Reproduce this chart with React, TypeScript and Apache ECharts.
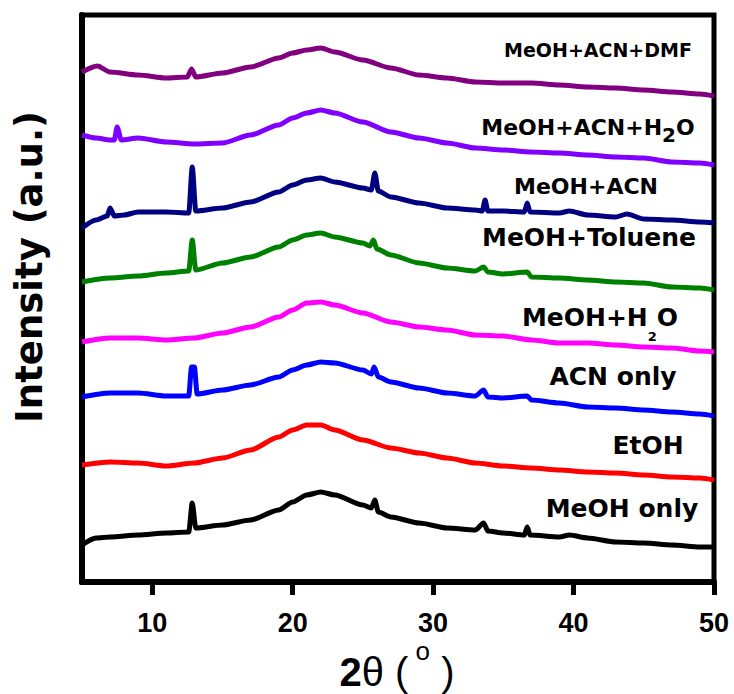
import React, { useEffect, useRef } from "react";
import * as echarts from "echarts";

// 2θ tick values
const xTicks = [10, 20, 30, 40, 50];

const sampleNames = [
  "MeOH+ACN+DMF",
  "MeOH+ACN+H2O",
  "MeOH+ACN",
  "MeOH+Toluene",
  "MeOH+H2O",
  "ACN only",
  "EtOH",
  "MeOH only",
];

const sampleColors = ["#800080", "#7F00FF", "#000080", "#008000", "#FF00FF", "#0000FF", "#FF0000", "#000000"];

// [2θ, intensity (a.u., stacked with offsets)]
const dmfData = [[5,510],[6.1,516],[7,510],[9,507],[11,504],[12.5,505],[12.8,513],[13.1,505],[15,509],[17,515],[19,524],[20,529],[21,532],[22,534],[23,530],[25,522],[27,514],[29,507],[31,504],[33,500],[35,499],[37,499],[39,497],[41,495],[43,494],[45,492],[47,490],[49,488],[50,486]];
const acnH2oData = [[5,447],[6,444],[7,442],[7.3,442],[7.5,455],[7.8,442],[9,444],[11,440],[13,438],[15,439],[17,447],[19,457],[20,464],[21,469],[22,472],[23,469],[25,460],[27,450],[29,444],[31,439],[33,434],[35,432],[37,430],[39,429],[41,427],[43,425],[45,424],[47,420],[49,419],[50,417]];
const acnData = [[5,354],[6,362],[6.8,366],[7,374],[7.3,366],[8,367],[9,370],[11,370],[12.6,369],[12.85,415],[13.1,371],[15,374],[17,380],[19,390],[20,397],[21,402],[22,404],[23,400],[25,394],[25.6,392],[25.85,409],[26.1,391],[27,385],[29,379],[31,374],[33,372],[33.5,371],[33.7,382],[33.9,371],[35,371],[36.5,370],[36.7,379],[36.9,370],[39,369],[39.7,371],[41,367],[43,365],[43.8,368],[45,363],[47,362],[49,360],[50,359]];
const tolueneData = [[5,300],[7,304],[9,306],[11,309],[12.6,311],[12.85,342],[13.1,312],[15,319],[17,325],[19,335],[20,342],[21,347],[22,349],[23,345],[25,339],[25.5,336],[25.75,342],[26,333],[27,327],[29,319],[31,314],[33,311],[33.6,315],[33.9,310],[35,308],[36.7,310],[37,305],[39,304],[41,302],[43,300],[45,299],[47,295],[49,294],[50,292]];
const h2oData = [[5,240],[7,244],[9,244],[11,242],[13,244],[15,249],[17,255],[19,265],[20,272],[21,279],[22,280],[23,277],[25,269],[27,260],[29,255],[31,252],[33,247],[35,246],[37,242],[39,239],[41,239],[43,237],[45,235],[47,234],[49,231],[50,230]];
const acnOnlyData = [[5,185],[7,189],[9,189],[11,186],[12.6,186],[12.8,215],[13.0,215],[13.2,188],[15,192],[17,197],[19,205],[20,212],[21,217],[22,220],[23,219],[25,212],[25.6,208],[25.8,215],[26.1,205],[27,200],[29,194],[31,189],[33,186],[33.6,192],[33.9,185],[35,184],[36.7,186],[37,182],[39,179],[41,175],[43,174],[45,172],[47,170],[49,168],[50,166]];
const etohData = [[5,117],[7,120],[9,119],[11,116],[13,119],[15,124],[17,132],[19,145],[20,152],[21,157],[22,157],[23,152],[25,142],[27,134],[29,129],[31,124],[33,119],[35,116],[37,114],[39,112],[41,110],[43,109],[45,107],[47,105],[49,104],[50,102]];
const meohOnlyData = [[5,37],[6,44],[7,45],[9,47],[11,49],[12.6,50],[12.85,79],[13.1,54],[15,57],[17,62],[19,72],[20,80],[21,87],[22,90],[23,87],[25,77],[25.6,74],[25.85,82],[26.1,70],[27,65],[29,59],[31,54],[33,52],[33.6,59],[33.9,51],[35,49],[36.5,47],[36.7,55],[36.9,47],[39,45],[39.7,47],[41,44],[43,40],[45,39],[47,37],[49,35],[50,35]];

const seriesData = [dmfData, acnH2oData, acnData, tolueneData, h2oData, acnOnlyData, etohData, meohOnlyData];

const LABEL_FONT = "DejaVu Sans";
const TICK_FONT = "Liberation Sans";

function richFor(fs: number, subFs: number, subPad: number) {
  return {
    m: { fontFamily: LABEL_FONT, fontWeight: "bold", fontSize: fs, lineHeight: fs, verticalAlign: "top", color: "#000" },
    s: { fontFamily: LABEL_FONT, fontWeight: "bold", fontSize: subFs, lineHeight: subFs, verticalAlign: "top", padding: [subPad, 0, 0, 0], color: "#000" },
  };
}

function labelText(name: string) {
  if (name.endsWith("H2O")) {
    return "{m|" + name.slice(0, -2) + "}{s|2}{m|O}";
  }
  return "{m|" + name + "}";
}

// label layout: [centerX, top, fontSize, subFontSize, subPadding]
const labelLayout: number[][] = [
  [598, 40.5, 19, 0, 0],
  [588, 116, 22, 20, 9],
  [586, 175, 22, 0, 0],
  [589, 224.5, 25, 0, 0],
  [600, 305, 25, 13, 25],
  [613, 364, 25, 0, 0],
  [648, 432.5, 25, 0, 0],
  [622, 495.5, 25, 0, 0],
];

export default function App() {
  const ref = useRef<HTMLDivElement>(null);
  useEffect(() => {
    if (!ref.current) return;
    const chart = echarts.init(ref.current, undefined, { renderer: "svg" });

    const labelGraphics = sampleNames.map((name, i) => {
      const [cx, top, fs, sfs, spad] = labelLayout[i];
      return {
        type: "text",
        x: cx,
        y: top,
        z: 100,
        style: {
          text: labelText(name),
          rich: richFor(fs, sfs || fs, spad),
          textAlign: "center",
          textVerticalAlign: "top",
          fill: "#000",
        },
      };
    });

    const option: any = {
      animation: false,
      backgroundColor: "#fff",
      grid: {
        left: 82,
        right: 20,
        top: 15,
        bottom: 112,
        show: true,
        borderColor: "#000",
        borderWidth: 5,
        backgroundColor: "transparent",
      },
      xAxis: [
        {
          type: "value",
          min: 5,
          max: 50,
          axisLine: { show: true, onZero: false, lineStyle: { color: "#000", width: 6 } },
          axisTick: { show: true, inside: false, length: 13, lineStyle: { color: "#000", width: 5 }, customValues: xTicks },
          axisLabel: {
            show: true,
            margin: 27,
            color: "#000",
            fontFamily: "Arial",
            fontWeight: 900,
            fontSize: 27,
            customValues: xTicks,
          },
          splitLine: { show: false },
        },
      ],
      yAxis: [
        {
          type: "value",
          min: 0,
          max: 567,
          axisLine: { show: true, onZero: false, lineStyle: { color: "#000", width: 6 } },
          axisTick: { show: false },
          axisLabel: { show: false },
          splitLine: { show: false },
        },
      ],
      series: seriesData.map((d, i) => ({
        name: sampleNames[i],
        type: "line",
        data: d,
        showSymbol: false,
        symbol: "none",
        smooth: 0.25,
        smoothMonotone: "x",
        lineStyle: { color: sampleColors[i], width: 5 },
        itemStyle: { color: sampleColors[i] },
        z: 2,
      })),
      graphic: [
        ...labelGraphics,
        {
          type: "text",
          x: 29,
          y: 267,
          rotation: Math.PI / 2,
          z: 100,
          style: {
            text: "Intensity (a.u.)",
            font: "bold 37px 'DejaVu Sans'",
            textAlign: "center",
            textVerticalAlign: "middle",
            fill: "#000",
          },
        },
        {
          type: "text",
          x: 397,
          y: 692,
          z: 100,
          style: {
            text: "{a|2}{b|θ (}{c| o}{d| )}",
            rich: {
              a: { fontFamily: TICK_FONT, fontWeight: "bold", fontSize: 40, lineHeight: 40, verticalAlign: "bottom", color: "#000" },
              b: { fontFamily: TICK_FONT, fontWeight: "normal", fontSize: 40, lineHeight: 40, verticalAlign: "bottom", color: "#000" },
              c: { fontFamily: TICK_FONT, fontWeight: "normal", fontSize: 26, lineHeight: 26, verticalAlign: "bottom", padding: [0, 0, 28, 0], color: "#000" },
              d: { fontFamily: TICK_FONT, fontWeight: "normal", fontSize: 40, lineHeight: 40, verticalAlign: "bottom", color: "#000" },
            },
            textAlign: "center",
            textVerticalAlign: "bottom",
            fill: "#000",
          },
        },
      ],
    };
    chart.setOption(option);
    return () => chart.dispose();
  }, []);

  return (
    <div
      ref={ref}
      style={{ position: "fixed", left: 0, top: 0, width: "734px", height: "694px", background: "#fff" }}
    />
  );
}
